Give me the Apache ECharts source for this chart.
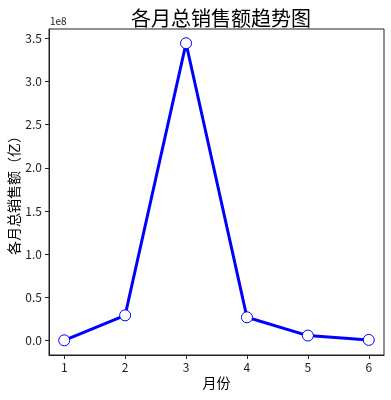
<!DOCTYPE html>
<html><head><meta charset="utf-8">
<script src="https://cdn.jsdelivr.net/npm/echarts@6/dist/echarts.min.js"></script>
<style>html,body{margin:0;padding:0;background:#fff}#c{width:391px;height:400px}</style>
</head><body><div id="c"></div>
<script>
var months = [1, 2, 3, 4, 5, 6];
var sales = [0.0e8, 0.29e8, 3.445e8, 0.267e8, 0.055e8, 0.005e8];
var yTicks = [0, 0.5e8, 1.0e8, 1.5e8, 2.0e8, 2.5e8, 3.0e8, 3.5e8];
var titleText = '各月总销售额趋势图';
var xName = '月份';
var yName = '各月总销售额（亿）';
var font = '"Noto Sans CJK SC", "DejaVu Sans", sans-serif';
var chart = echarts.init(document.getElementById('c'), null, {renderer: 'canvas'});
chart.setOption({
  animation: false,
  title: {text: titleText, left: 216, top: 3, textAlign: 'center',
    textStyle: {fontFamily: font, fontSize: 20, fontWeight: 'normal', color: '#000'}},
  graphic: [{type: 'text', left: 50, top: 16, style: {text: '1e8', font: '10px ' + font, fill: '#222'}}],
  grid: {left: 49, right: 7, top: 29, bottom: 45, show: true, borderColor: '#222', borderWidth: 1,
    containLabel: false, outerBoundsMode: 'none'},
  xAxis: {type: 'value', min: 0.75, max: 6.25,
    name: xName, nameLocation: 'middle', nameGap: 21, nameMoveOverlap: false,
    nameTextStyle: {fontFamily: font, fontSize: 14, color: '#000'},
    axisLine: {show: true, onZero: false, lineStyle: {color: '#222'}},
    axisTick: {show: true, length: 4, lineStyle: {color: '#222'}, customValues: months},
    axisLabel: {customValues: months, fontFamily: font, fontSize: 12, color: '#222', margin: 6},
    splitLine: {show: false}},
  yAxis: {type: 'value', min: -0.17e8, max: 3.61e8,
    name: yName, nameLocation: 'middle', nameGap: 28, nameMoveOverlap: false,
    nameTextStyle: {fontFamily: font, fontSize: 14, color: '#000'},
    axisLine: {show: true, onZero: false, lineStyle: {color: '#222'}},
    axisTick: {show: true, length: 4, lineStyle: {color: '#222'}, customValues: yTicks},
    axisLabel: {customValues: yTicks, fontFamily: font, fontSize: 12, color: '#222', margin: 7,
      formatter: function (v) { return (v / 1e8).toFixed(1); }},
    splitLine: {show: false}},
  series: [{type: 'line', data: months.map(function (m, i) { return [m, sales[i]]; }),
    lineStyle: {color: '#0000ff', width: 3},
    symbol: 'circle', symbolSize: 11,
    itemStyle: {color: '#ffffff', borderColor: '#0000ff', borderWidth: 1},
    z: 3}]
});
</script></body></html>
